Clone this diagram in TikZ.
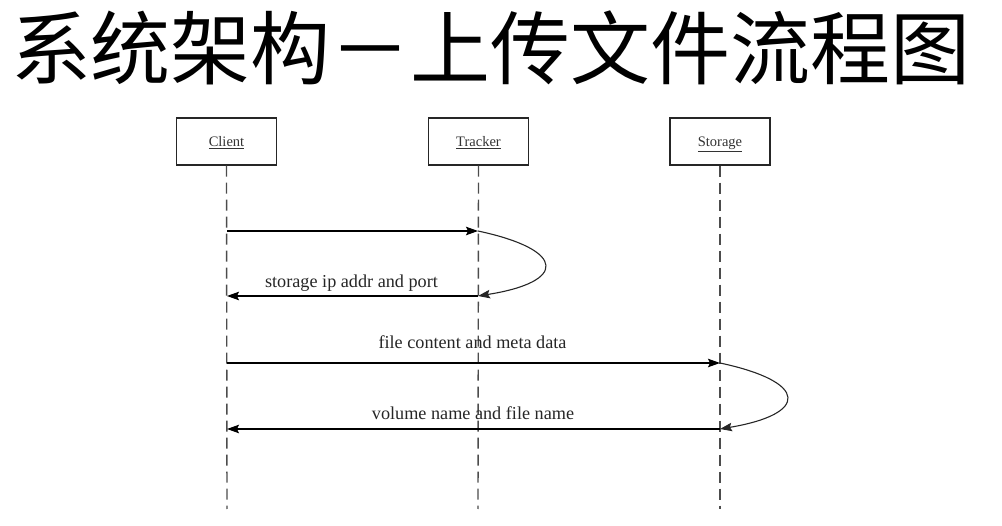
\documentclass[tikz,border=0pt]{standalone}
\usepackage{fontspec}
\setmainfont{Liberation Serif}
\newfontfamily\cjk{Noto Sans CJK SC}
\usetikzlibrary{arrows.meta}
\begin{document}
\begin{tikzpicture}[x=1pt,y=-1pt,
  actor/.style={draw=black!85, line width=1.1pt, minimum width=100pt, minimum height=47pt, inner sep=0pt, text height=12pt, text depth=1pt, font=\fontsize{14.5}{16}\selectfont, text=black!80},
  lifeline/.style={draw=black!70, line width=1.4pt, dash pattern=on 11pt off 6pt},
  msg/.style={draw=black, line width=1.1pt, -{Stealth[length=12pt,width=8.5pt,inset=2pt]}},
  self/.style={draw=black!85, line width=1.1pt, -{Stealth[length=12pt,width=8.5pt,inset=2pt]}},
  lbl/.style={font=\fontsize{18.2}{20}\selectfont, text=black!85, inner sep=0pt}]
\useasboundingbox (0,0) rectangle (1002,526);
\node[font=\cjk\fontsize{80}{80}\selectfont, inner sep=0pt] (title) at (491,48) {系统架构－上传文件流程图};
\node[actor] (client) at (226.5,141.5) {\underline{Client}};
\node[actor] (tracker) at (478.5,141.5) {\underline{Tracker}};
\node[actor] (storage) at (720,141.5) {\underline{Storage}};
\coordinate (cend) at (227,509);
\coordinate (tend) at (478,509);
\coordinate (send) at (720,509);
\draw[lifeline] (client.south) -- (cend);
\draw[lifeline] (tracker.south) -- (tend);
\draw[lifeline] (storage.south) -- (send);
% messages
\coordinate (c1) at (227,231);
\coordinate (t1) at (478,231);
\coordinate (t2) at (478,296);
\coordinate (c2) at (227,296);
\coordinate (c3) at (227,363);
\coordinate (s3) at (720,363);
\coordinate (s4) at (720,429);
\coordinate (c4) at (227,429);
\draw[msg] (c1) -- (t1);
\draw[self] (t1) .. controls (567,250) and (567,282) .. (t2);
\draw[msg] (t2) -- (c2);
\node[lbl] (l1) at (351.5,283) {storage ip addr and port};
\draw[msg] (c3) -- (s3);
\node[lbl] (l2) at (472.5,342) {file content and meta data};
\draw[self] (s3) .. controls (809,382) and (809,414) .. (s4);
\draw[msg] (s4) -- (c4);
\node[lbl] (l3) at (473,413) {volume name and file name};
\end{tikzpicture}
\end{document}
